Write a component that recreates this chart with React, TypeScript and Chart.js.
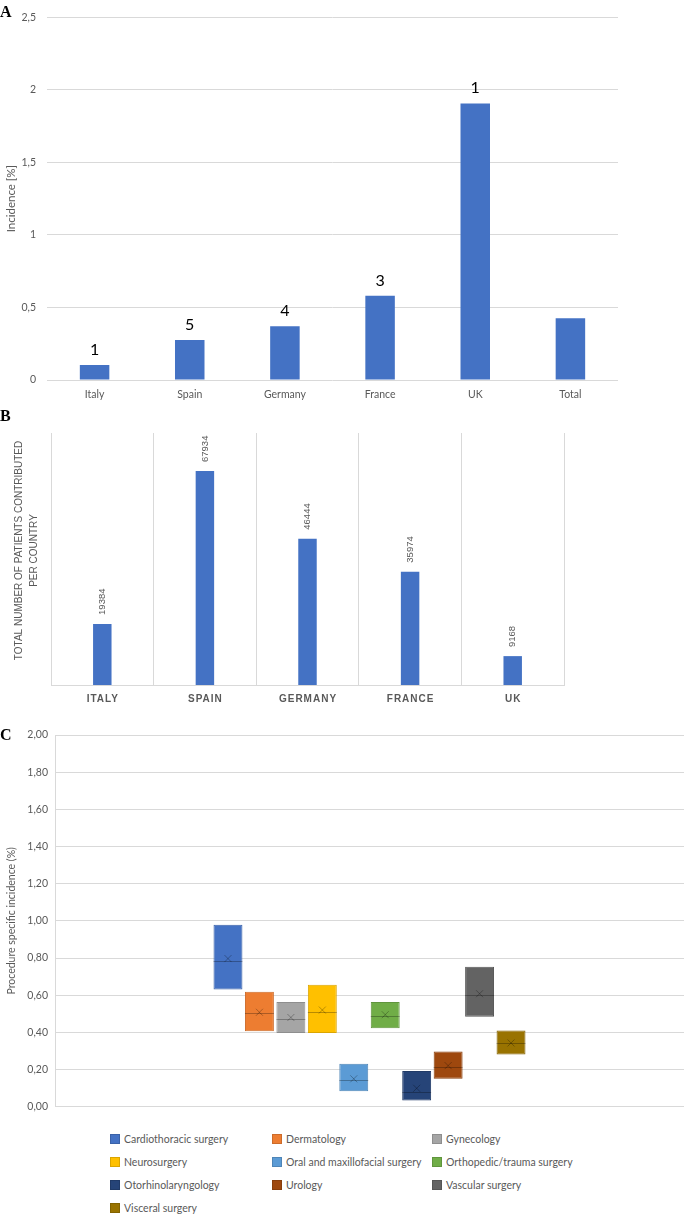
import React, { useEffect, useRef } from 'react';
import { Chart, registerables } from 'chart.js';

Chart.register(...registerables);

// ---------- Data ----------
const countriesA = ['Italy', 'Spain', 'Germany', 'France', 'UK', 'Total'];
const incidenceA = [0.103, 0.276, 0.37, 0.58, 1.906, 0.425];
const caseCountLabels = ['1', '5', '4', '3', '1', ''];

const countriesB = ['ITALY', 'SPAIN', 'GERMANY', 'FRANCE', 'UK'];
const patientsB = [19384, 67934, 46444, 35974, 9168];
const titleB = ['TOTAL NUMBER OF PATIENTS CONTRIBUTED', 'PER COUNTRY'];

const specialties = [
  'Cardiothoracic surgery',
  'Dermatology',
  'Gynecology',
  'Neurosurgery',
  'Oral and maxillofacial surgery',
  'Orthopedic/trauma surgery',
  'Otorhinolaryngology',
  'Urology',
  'Vascular surgery',
  'Visceral surgery',
];
const boxLow = [0.631, 0.406, 0.396, 0.396, 0.083, 0.422, 0.033, 0.15, 0.484, 0.281];
const boxHigh = [0.979, 0.618, 0.564, 0.656, 0.231, 0.564, 0.192, 0.297, 0.753, 0.41];
const boxMedian = [0.783, 0.505, 0.473, 0.509, 0.141, 0.489, 0.081, 0.214, 0.602, 0.343];
const boxMean = [0.797, 0.508, 0.48, 0.52, 0.15, 0.495, 0.099, 0.221, 0.608, 0.343];
const boxColors = ['#4472C4', '#ED7D31', '#A5A5A5', '#FFC000', '#5B9BD5', '#70AD47', '#264478', '#9E480E', '#636363', '#997300'];
const boxBorders = ['#3A62A8', '#CC6B2A', '#8E8E8E', '#DBA500', '#4E85B7', '#60953D', '#203A67', '#883E0C', '#555555', '#836300'];

// ---------- Styles ----------
const GRAY_TEXT = '#595959';
const GRID = '#d9d9d9';
const CAL = "Lato, 'Open Sans', sans-serif";
const ARIAL = "'Liberation Sans', Arial, sans-serif";

const commaTick = (v: any) => String(v).replace('.', ',');

const countLabelPlugin = {
  id: 'countLabels',
  afterDatasetsDraw(chart: any) {
    const meta = chart.getDatasetMeta(0);
    const ctx = chart.ctx;
    ctx.save();
    ctx.font = `16px ${CAL}`;
    ctx.fillStyle = '#000';
    ctx.textAlign = 'center';
    ctx.textBaseline = 'alphabetic';
    meta.data.forEach((bar: any, i: number) => {
      const t = caseCountLabels[i];
      if (t) ctx.fillText(t, bar.x, bar.y - 10);
    });
    ctx.restore();
  },
};

const bTextPlugin = {
  id: 'bText',
  afterDatasetsDraw(chart: any) {
    const ctx = chart.ctx;
    const xs = chart.scales.x;
    const meta = chart.getDatasetMeta(0);
    const area = chart.chartArea;
    ctx.save();
    // value labels (rotated)
    ctx.fillStyle = GRAY_TEXT;
    ctx.font = `9.5px ${ARIAL}`;
    ctx.textAlign = 'left';
    ctx.textBaseline = 'middle';
    meta.data.forEach((bar: any, i: number) => {
      ctx.save();
      ctx.translate(bar.x, bar.y - 9);
      ctx.rotate(-Math.PI / 2);
      ctx.fillText(String(patientsB[i]), 0, 0);
      ctx.restore();
    });
    // category labels with letter spacing
    ctx.font = `bold 10px ${ARIAL}`;
    ctx.textAlign = 'center';
    (ctx as any).letterSpacing = '1px';
    countriesB.forEach((c, i) => {
      ctx.fillText(c, xs.getPixelForValue(i) + 0.5, area.bottom + 14);
    });
    (ctx as any).letterSpacing = '0px';
    // axis title (two lines, rotated)
    ctx.font = `10px ${ARIAL}`;
    const cy = (area.top + area.bottom) / 2 - 8.5;
    const xsTitle = [19.7, 33.9];
    titleB.forEach((line, i) => {
      ctx.save();
      ctx.translate(xsTitle[i], cy);
      ctx.rotate(-Math.PI / 2);
      ctx.fillText(line, 0, 0);
      ctx.restore();
    });
    ctx.restore();
  },
};

const boxStatsPlugin = {
  id: 'boxStats',
  afterDatasetsDraw(chart: any) {
    const ctx = chart.ctx;
    const ys = chart.scales.y;
    ctx.save();
    ctx.lineWidth = 1;
    ctx.strokeStyle = 'rgba(0,0,0,0.28)';
    specialties.forEach((_, i) => {
      const bar: any = chart.getDatasetMeta(i).data[0];
      if (!bar) return;
      const x = bar.x;
      const w = bar.width;
      const yMed = Math.round(ys.getPixelForValue(boxMedian[i])) + 0.5;
      ctx.beginPath();
      ctx.moveTo(x - w / 2, yMed);
      ctx.lineTo(x + w / 2, yMed);
      ctx.stroke();
      const yMean = ys.getPixelForValue(boxMean[i]);
      const s = 3.5;
      ctx.beginPath();
      ctx.moveTo(x - s, yMean - s);
      ctx.lineTo(x + s, yMean + s);
      ctx.moveTo(x + s, yMean - s);
      ctx.lineTo(x - s, yMean + s);
      ctx.stroke();
    });
    ctx.restore();
  },
};

export default function App() {
  const refA = useRef<HTMLCanvasElement | null>(null);
  const refB = useRef<HTMLCanvasElement | null>(null);
  const refC = useRef<HTMLCanvasElement | null>(null);

  useEffect(() => {
    const charts: Chart[] = [];

    charts.push(
      new Chart(refA.current as HTMLCanvasElement, {
        type: 'bar',
        data: {
          labels: countriesA,
          datasets: [
            {
              data: incidenceA,
              backgroundColor: '#4472C4',
              categoryPercentage: 1,
              barPercentage: 0.31,
            },
          ],
        },
        options: {
          responsive: false,
          animation: false,
          devicePixelRatio: 1,
          layout: { padding: { top: 17, right: 2, left: 0, bottom: 0 } },
          plugins: { legend: { display: false }, tooltip: { enabled: false } },
          scales: {
            x: {
              grid: { display: false, drawTicks: false },
              border: { display: false },
              ticks: { color: GRAY_TEXT, font: { family: CAL, size: 10.5 }, padding: 8, maxRotation: 0 },
              afterFit: (s: any) => {
                s.height = 30;
              },
            },
            y: {
              min: 0,
              max: 2.5,
              ticks: {
                stepSize: 0.5,
                color: GRAY_TEXT,
                font: { family: CAL, size: 10.5 },
                padding: 11,
                callback: commaTick,
              },
              grid: { color: GRID, drawTicks: false },
              border: { display: false },
              title: {
                display: true,
                text: 'Incidence [%]',
                color: GRAY_TEXT,
                font: { family: CAL, size: 11.5 },
                padding: { top: 4.5, bottom: 0 },
              },
              afterFit: (s: any) => {
                s.width = 47;
              },
            },
          },
        },
        plugins: [countLabelPlugin],
      } as any)
    );

    charts.push(
      new Chart(refB.current as HTMLCanvasElement, {
        type: 'bar',
        data: {
          labels: countriesB,
          datasets: [
            {
              data: patientsB,
              backgroundColor: '#4472C4',
              categoryPercentage: 1,
              barPercentage: 0.18,
            },
          ],
        },
        options: {
          responsive: false,
          animation: false,
          devicePixelRatio: 1,
          layout: { padding: { top: 8, right: 2, left: 51, bottom: 0 } },
          plugins: { legend: { display: false }, tooltip: { enabled: false } },
          scales: {
            x: {
              grid: { color: GRID, drawTicks: false, offset: true },
              border: { display: true, color: GRID },
              ticks: { display: false },
              afterFit: (s: any) => {
                s.height = 30;
              },
            },
            y: { display: false, min: 0, max: 80000 },
          },
        },
        plugins: [bTextPlugin],
      } as any)
    );

    charts.push(
      new Chart(refC.current as HTMLCanvasElement, {
        type: 'bar',
        data: {
          labels: [''],
          datasets: specialties.map((s, i) => ({
            label: s,
            data: [[boxLow[i], boxHigh[i]]],
            backgroundColor: boxColors[i],
            borderColor: boxBorders[i],
            borderWidth: 1,
            borderSkipped: false,
            categoryPercentage: 0.5,
            barPercentage: 0.92,
          })),
        },
        options: {
          responsive: false,
          animation: false,
          devicePixelRatio: 1,
          layout: { padding: { top: 15, right: 1, left: 0, bottom: 9 } },
          plugins: { legend: { display: false }, tooltip: { enabled: false } },
          scales: {
            x: { display: false },
            y: {
              min: 0,
              max: 2,
              ticks: {
                stepSize: 0.2,
                color: GRAY_TEXT,
                font: { family: CAL, size: 10.5 },
                padding: 7,
                callback: (v: any) => Number(v).toFixed(2).replace('.', ','),
              },
              grid: { color: GRID, drawTicks: false },
              border: { display: true, color: GRID },
              title: {
                display: true,
                text: 'Procedure specific incidence (%)',
                color: GRAY_TEXT,
                font: { family: CAL, size: 10.5 },
                padding: { top: 5, bottom: 0 },
              },
              afterFit: (s: any) => {
                s.width = 55;
              },
            },
          },
        },
        plugins: [boxStatsPlugin],
      } as any)
    );

    return () => charts.forEach((c) => c.destroy());
  }, []);

  const letterStyle = (top: number): React.CSSProperties => ({
    position: 'absolute',
    left: 0,
    top,
    fontFamily: "'Liberation Serif', 'Times New Roman', serif",
    fontWeight: 'bold',
    fontSize: 16,
    lineHeight: '16px',
    color: '#000',
  });

  const legendCols = [110, 272, 432];

  return (
    <div style={{ position: 'absolute', left: 0, top: 0, width: 685, height: 1214, background: '#fff', overflow: 'hidden' }}>
      <canvas ref={refA} width={620} height={410} style={{ position: 'absolute', left: 0, top: 0 }} />
      <canvas ref={refB} width={566} height={290} style={{ position: 'absolute', left: 0, top: 425 }} />
      <canvas ref={refC} width={685} height={400} style={{ position: 'absolute', left: 0, top: 720 }} />
      <div style={letterStyle(4)}>A</div>
      <div style={letterStyle(408)}>B</div>
      <div style={letterStyle(727)}>C</div>
      {specialties.map((s, i) => {
        const col = i % 3;
        const row = Math.floor(i / 3);
        const cy = 1139 + row * 23;
        return (
          <div
            key={s}
            style={{
              position: 'absolute',
              left: legendCols[col],
              top: cy - 7,
              height: 14,
              display: 'flex',
              alignItems: 'center',
              whiteSpace: 'nowrap',
            }}
          >
            <span
              style={{
                display: 'inline-block',
                width: 8,
                height: 8,
                background: boxColors[i],
                border: `1px solid ${boxBorders[i]}`,
                marginRight: 4,
              }}
            />
            <span style={{ fontFamily: CAL, fontSize: 10.5, color: GRAY_TEXT, lineHeight: '14px' }}>{s}</span>
          </div>
        );
      })}
    </div>
  );
}
